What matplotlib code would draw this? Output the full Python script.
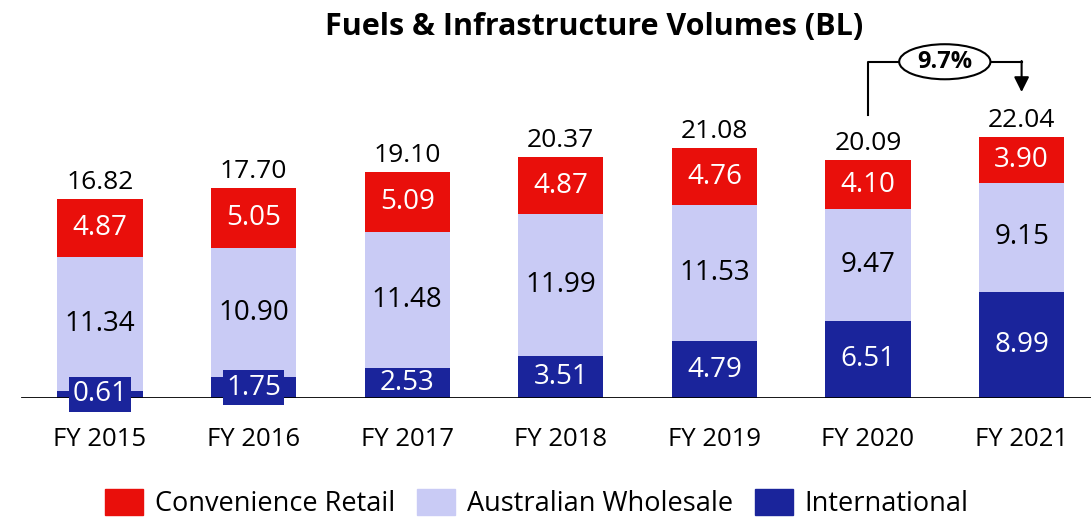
import matplotlib.pyplot as plt
from matplotlib.patches import Ellipse

plt.rcParams['font.family'] = ['Open Sans', 'DejaVu Sans']

YEARS = ["FY 2015", "FY 2016", "FY 2017", "FY 2018", "FY 2019", "FY 2020", "FY 2021"]
INTERNATIONAL = [0.61, 1.75, 2.53, 3.51, 4.79, 6.51, 8.99]
WHOLESALE = [11.34, 10.90, 11.48, 11.99, 11.53, 9.47, 9.15]
RETAIL = [4.87, 5.05, 5.09, 4.87, 4.76, 4.10, 3.90]
TOTALS = [16.82, 17.70, 19.10, 20.37, 21.08, 20.09, 22.04]
GROWTH = "9.7%"

C_RED = "#E90F0B"
C_LAV = "#C9CBF5"
C_BLUE = "#1A249B"

fig = plt.figure(figsize=(10.91, 5.17), dpi=100)
# baseline sits at 398px from the top, 11.84 px per unit
ax = fig.add_axes([0, 119 / 517, 1, 398 / 517])
ax.set_xlim(-100 / 153.6, (1091 - 100) / 153.6)
ax.set_ylim(0, 398 / 11.84)

x = list(range(len(YEARS)))
w = 0.555
bottoms_w = INTERNATIONAL
bottoms_r = [a + b for a, b in zip(INTERNATIONAL, WHOLESALE)]

ax.bar(x, INTERNATIONAL, width=w, color=C_BLUE, zorder=2)
ax.bar(x, WHOLESALE, width=w, bottom=bottoms_w, color=C_LAV, zorder=2)
ax.bar(x, RETAIL, width=w, bottom=bottoms_r, color=C_RED, zorder=2)

ax.axhline(0, xmin=22 / 1091, xmax=1, color="black", lw=2, zorder=3)

# segment labels (small segments get a box so the label stays readable)
for i in x:
    box = None
    if INTERNATIONAL[i] < 2:
        box = dict(boxstyle="square,pad=0.12", fc=C_BLUE, ec="none")
    ax.text(i, INTERNATIONAL[i] / 2, f"{INTERNATIONAL[i]:.2f}", ha="center", va="center",
            color="white", fontsize=20, zorder=5, bbox=box)
    ax.text(i, bottoms_w[i] + WHOLESALE[i] / 2, f"{WHOLESALE[i]:.2f}", ha="center", va="center",
            color="black", fontsize=20, zorder=5)
    ax.text(i, bottoms_r[i] + RETAIL[i] / 2, f"{RETAIL[i]:.2f}", ha="center", va="center",
            color="white", fontsize=20, zorder=5)
    ax.annotate(f"{TOTALS[i]:.2f}", (i, TOTALS[i]), xytext=(0, 3), textcoords="offset points",
                ha="center", va="bottom", fontsize=19)

# growth bracket between last two years
y0 = TOTALS[5] + 3.8
y1 = TOTALS[6] + 3.8
ytop = 28.4
xm = (x[5] + x[6]) / 2
ew, eh = 0.594, 2.96
ax.plot([x[5], x[5], xm - ew / 2], [y0, ytop, ytop], color="black", lw=1.5)
ax.plot([xm + ew / 2, x[6]], [ytop, ytop], color="black", lw=1.5)
ax.annotate("", xy=(x[6], y1), xytext=(x[6], ytop + 0.06),
            arrowprops=dict(arrowstyle="-|>,head_length=0.9,head_width=0.45", color="black", lw=1.5,
                            shrinkA=0, shrinkB=0))
ax.add_patch(Ellipse((xm, ytop), ew, eh, fc="white", ec="black", lw=1.5, zorder=4))
ax.text(xm, ytop, GROWTH, ha="center", va="center", fontsize=17, fontweight="bold", zorder=5)

ax.set_xticks(x)
ax.set_xticklabels(YEARS, fontsize=18.5)
ax.tick_params(axis="x", length=0, pad=21)
ax.set_yticks([])
for s in ax.spines.values():
    s.set_visible(False)

fig.text(0.545, 1 - 27 / 517, "Fuels & Infrastructure Volumes (BL)", ha="center", va="center",
         fontsize=22, fontweight="bold")

handles = [plt.Rectangle((0, 0), 1, 1, color=c) for c in (C_RED, C_LAV, C_BLUE)]
fig.legend(handles, ["Convenience Retail", "Australian Wholesale", "International"],
           loc="lower center", bbox_to_anchor=(0.492, -0.05), ncol=3, frameon=False,
           fontsize=19.5, handlelength=1.4, handleheight=1.1, handletextpad=0.45, columnspacing=0.8)

fig.savefig("out.png", dpi=100)
